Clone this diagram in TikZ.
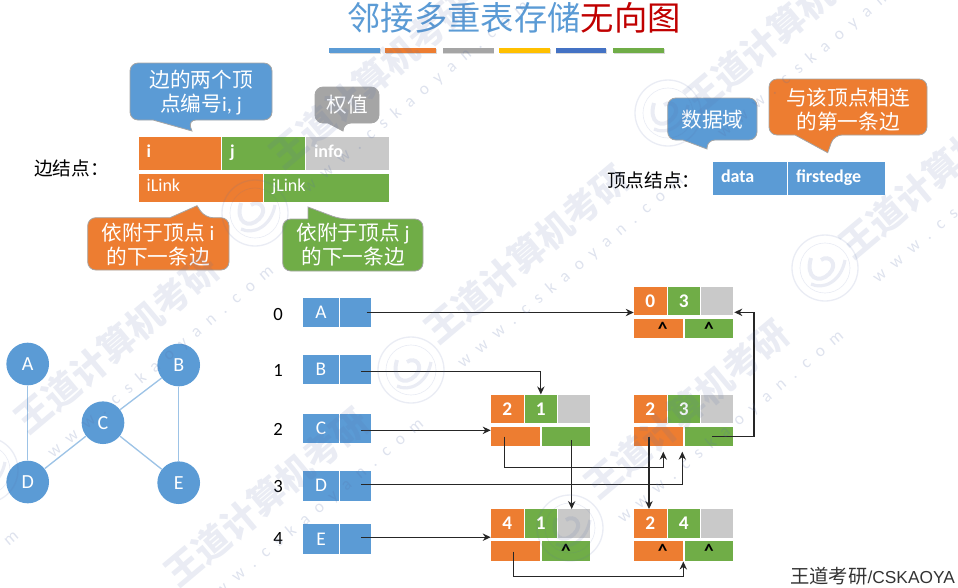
\documentclass[tikz,border=0pt]{standalone}
\usepackage{fontspec}
\setmainfont{Carlito}
\newfontfamily\cjk{Noto Sans CJK SC}
\newfontfamily\arialf{Liberation Sans}
\usetikzlibrary{arrows.meta,calc}
\definecolor{cblue}{HTML}{5B9BD5}
\definecolor{corange}{HTML}{ED7D31}
\definecolor{cgreen}{HTML}{70AD47}
\definecolor{cgray}{HTML}{C9C9C9}
\definecolor{cdgray}{HTML}{A5A5A5}
\definecolor{cyel}{HTML}{FFC000}
\definecolor{cdblue}{HTML}{4472C4}
\definecolor{cred}{HTML}{C00000}
\definecolor{cedge}{HTML}{9DC3E6}
\definecolor{cwm}{HTML}{5A70A8}
\newcommand{\zh}[1]{{\cjk #1}}
\tikzset{
  cellbox/.style={draw=none,inner sep=0pt,text=white,font=\fontsize{14.5}{16}\selectfont\bfseries},
  leftcell/.style={cellbox,align=left,font=\fontsize{13.5}{15}\selectfont\bfseries},
  plaincell/.style={font=\fontsize{13.5}{15}\selectfont},
  vnode/.style={circle,fill=cblue,minimum size=32pt,inner sep=0pt,text=white,font=\fontsize{15}{17}\selectfont},
  gedge/.style={draw=cedge,line width=1pt},
  link/.style={draw=black!85,line width=0.95pt,-{Stealth[length=6pt,width=5.5pt]}},
  callout/.style={draw=cdgray,line width=0.6pt},
  calltext/.style={text=white,align=center,inner sep=0pt,font=\fontsize{15.5}{18}\selectfont},
  sidetext/.style={text=black,inner sep=0pt,anchor=west,font=\fontsize{14}{16}\selectfont},
  idx/.style={text=black,inner sep=0pt,font=\fontsize{14}{16}\selectfont},
  wmzh/.style={text=cwm,opacity=.13,rotate=40,anchor=west,inner sep=0pt,font=\fontsize{27}{30}\selectfont\cjk\bfseries},
  wmen/.style={text=cwm,opacity=.2,rotate=40,anchor=west,inner sep=0pt,font=\fontsize{13}{15}\selectfont\rmfamily},
  wmseal/.style={draw=cwm,opacity=.13},
}
% name x1 y1 x2 y2 fill text
\newcommand{\cell}[8][]{%
  \pgfmathsetmacro\cw{((#5)-(#3))*0.75}\pgfmathsetmacro\ch{((#6)-(#4))*0.75}%
  \node[cellbox,fill=#7,minimum width=\cw pt,minimum height=\ch pt,#1] (#2) at ({((#3)+(#5))/2},{((#4)+(#6))/2}) {#8};}
\newcommand{\lcell}[8][]{%
  \pgfmathsetmacro\cw{((#5)-(#3))*0.75}\pgfmathsetmacro\ch{((#6)-(#4))*0.75}\pgfmathsetmacro\ct{\cw-6}%
  \node[leftcell,fill=#7,minimum width=\cw pt,minimum height=\ch pt,text width=\ct pt,inner xsep=3pt,#1] (#2) at ({((#3)+(#5))/2},{((#4)+(#6))/2}) {\hspace*{3pt}\raisebox{-1.2pt}{\strut #8}};}
% x1 xr yfar ytip-edge fill b1 b2 tx ty
\newcommand{\callbox}[9]{%
  \draw[callout,fill=#5] (#1,{(#3+#4)/2}) [rounded corners=6pt] -- (#1,#3) -- (#2,#3) -- (#2,#4) -- (#7,#4) [sharp corners] -- (#8,#9) -- (#6,#4) [rounded corners=6pt] -- (#1,#4) -- cycle;}
% id, x0, ytop, i, j, ltext, rtext
\newcommand{\enode}[7]{%
  \pgfmathsetmacro\xa{#2}\pgfmathsetmacro\ya{#3}%
  \cell{#1i}{\xa}{\ya}{\xa+32.7}{\ya+28.6}{corange}{#4}%
  \cell{#1j}{\xa+33.7}{\ya}{\xa+66}{\ya+28.6}{cgreen}{#5}%
  \cell{#1w}{\xa+67}{\ya}{\xa+99.3}{\ya+28.6}{cgray}{}%
  \cell{#1l}{\xa}{\ya+32}{\xa+49.3}{\ya+51.6}{corange}{#6}%
  \cell{#1r}{\xa+50.7}{\ya+32}{\xa+99.3}{\ya+51.6}{cgreen}{#7}}
\newcommand{\hatl}{\textcolor{black}{\hspace*{6pt}\raisebox{-1.5pt}{\textasciicircum}}}
\newcommand{\hatr}{\textcolor{black}{\raisebox{-1.5pt}{\textasciicircum}}}
\newcommand{\wmark}[3]{%
  \node[wmzh] (wz#3) at (#1,#2) {王道计算机考研};
  \node[wmen] (we#3) at (#1+30,#2+30) {w\,\, w\,\, w\,\, .\,\, c\,\, s\,\, k\,\, a\,\, o\,\, y\,\, a\,\, n\,\, .\,\, c\,\, o\,\, m};}
\newcommand{\wseal}[2]{%
  \draw[wmseal,line width=1pt] (#1,#2) circle[radius=33];
  \draw[wmseal,line width=.5pt] (#1,#2) circle[radius=25];
  \draw[wmseal,line width=3pt] (#1-14,#2-10) .. controls (#1-20,#2+10) and (#1-6,#2+16) .. (#1+4,#2+6) .. controls (#1+14,#2-4) and (#1+4,#2-14) .. (#1-4,#2-8);
  \draw[wmseal,line width=2.4pt] (#1-14,#2+16) .. controls (#1-2,#2+22) and (#1+16,#2+14) .. (#1+20,#2-8);}
\begin{document}
\begin{tikzpicture}[x=0.75pt,y=-0.75pt]
\useasboundingbox (0,0) rectangle (958,587);
\begin{scope}
\clip (0,0) rectangle (958,587);
% title
\node[inner sep=0pt,font=\fontsize{25}{28}\selectfont\cjk] (title) at (514,18) {\textcolor{cblue}{邻接多重表存储}\textcolor{cred}{无向图}};
% bars
\foreach \a/\b/\c in {329.3/380/cblue,385/436/corange,442.7/493.7/cdgray,499/550/cyel,555.7/606.3/cdblue,613/664/cgreen}{
  \fill[black!15] (\a+.7,48.7) rectangle (\b+.7,54.2);
  \fill[\c] (\a,47.7) rectangle (\b,53);
}
% edge node legend
\node[sidetext] (lblE) at (34,168) {\zh{边结点：}};
\lcell{li}{138.7}{137}{221}{170}{corange}{i}
\lcell{lj}{222}{137}{305}{170}{cgreen}{j}
\lcell{linfo}{306}{137}{388.5}{170}{cgray}{info}
\lcell[plaincell]{lil}{138.7}{173.7}{263}{202}{corange}{iLink}
\lcell[plaincell]{ljl}{264}{173.7}{388.5}{202}{cgreen}{jLink}
% callouts
\callbox{130}{272}{63}{120}{cblue}{153}{188}{192}{131}
\node[calltext] (c1) at (201,93) {\zh{边的两个顶}\\\zh{点编号}i, j};
\callbox{315}{379}{87}{123}{cdgray}{328}{343}{343}{131}
\node[calltext] (c2) at (347,105) {\zh{权值}};
\callbox{87.7}{229}{270}{217.7}{corange}{170}{205}{197}{205.7}
\node[calltext] (c3) at (158,244.5) {\zh{依附于顶点} i\\\zh{的下一条边}};
\callbox{282.7}{423}{271}{219}{cgreen}{308}{340}{308}{207}
\node[calltext] (c4) at (353,245) {\zh{依附于顶点} j\\\zh{的下一条边}};
% vertex legend
\node[sidetext] (lblV) at (607,180) {\zh{顶点结点：}};
\lcell{vdata}{713}{162}{787}{195}{cblue}{data}
\lcell{vfirst}{788}{162}{884.7}{195}{cblue}{firstedge}
\callbox{667.7}{757}{98}{140}{cblue}{683}{707}{707}{149}
\node[calltext] (c5) at (712.5,120) {\zh{数据域}};
\callbox{769}{927}{79}{135}{corange}{795}{834}{827.7}{152.7}
\node[calltext] (c6) at (848,109.5) {\zh{与该顶点相连}\\\zh{的第一条边}};
% graph
\node[vnode] (A) at (27.7,364) {A};
\node[vnode] (B) at (178.7,365) {B};
\node[vnode] (C) at (103,422.7) {C};
\node[vnode] (D) at (27.7,482) {D};
\node[vnode] (E) at (178.7,482.7) {E};
\draw[gedge] (A) -- (D);
\draw[gedge] (B) -- (E);
\draw[gedge] (C) -- (B);
\draw[gedge] (C) -- (D);
\draw[gedge] (C) -- (E);
% vertex table
\foreach \n/\t/\ya/\yb/\yi/\k in {A/A/298/327/314/0,B/B/355/384/370/1,C/C/414/443/429/2,D/D/471/500.5/486/3,E/E/524/554/538.5/4}{
  \node[idx] (idx\n) at (278,\yi) {\k};
  \cell[font=\fontsize{14.5}{16}\selectfont]{v\n}{303}{\ya}{339}{\yb}{cblue}{\t}
  \cell{p\n}{340}{\ya}{370.7}{\yb}{cblue}{}
}
% edge nodes
\enode{ea}{634}{286.7}{0}{3}{\hatl}{\hatr}
\enode{eb}{491}{394.7}{2}{1}{}{}
\enode{ec}{634}{394.7}{2}{3}{}{}
\enode{ed}{491}{509.3}{4}{1}{}{\hatr}
\enode{ee}{634}{509.3}{2}{4}{\hatl}{\hatr}
% connector ends
\coordinate (sA) at (366.7,312.5);
\coordinate (sB) at (361,371.5);
\coordinate (sC) at (361,430.3);
\coordinate (sD) at (361,484.7);
\coordinate (sE) at (361,537.2);
\coordinate (tD) at (682.3,451.7);
\coordinate (tL) at (663.3,451.7);
\coordinate (sBl) at (504.3,436.7);
\coordinate (sBr) at (571.7,440);
\coordinate (sCl) at (649,436.7);
\coordinate (sCr) at (712.3,436.7);
\coordinate (tW) at (734.3,312.3);
\coordinate (sDl) at (513.7,551.7);
\coordinate (tEb) at (683.3,561.5);
\draw[link] (sA) -- (sA -| eai.west);
\draw[link] (sB) -| (ebj.north);
\draw[link] (sC) -- (sC -| ebl.west);
\draw[link] (sD) -| (tD);
\draw[link] (sE) -- (sE -| edi.west);
\draw[link] (sBl) |- (567,467.7) -| (tL);
\draw[link] (sBr) -- (sBr |- edw.north);
\draw[link] (sCl) -- (sCl |- eei.north);
\draw[link] (sCr) -- (754,436.7) |- (tW);
\draw[link] (sDl) |- (600,576.7) -| (tEb);
% credit
\node[anchor=west,inner sep=0pt,text=black!80,font=\fontsize{14.5}{16}\selectfont] (credit) at (790,576) {\zh{王道考研}\arialf\fontsize{13}{15}\selectfont /CSKAOYA};
% watermark
\wmark{20}{425}{1}
\wmark{170}{578}{2}
\wmark{275}{160}{3}
\wmark{430}{335}{4}
\wmark{590}{490}{5}
\wmark{690}{105}{6}
\wmark{845}{250}{7}
\wmark{-235}{690}{8}
\wseal{255}{213}
\wseal{411}{370}
\wseal{570}{528}
\wseal{668}{113}
\wseal{825}{268}
\wseal{-15}{470}
\end{scope}
\end{tikzpicture}
\end{document}
